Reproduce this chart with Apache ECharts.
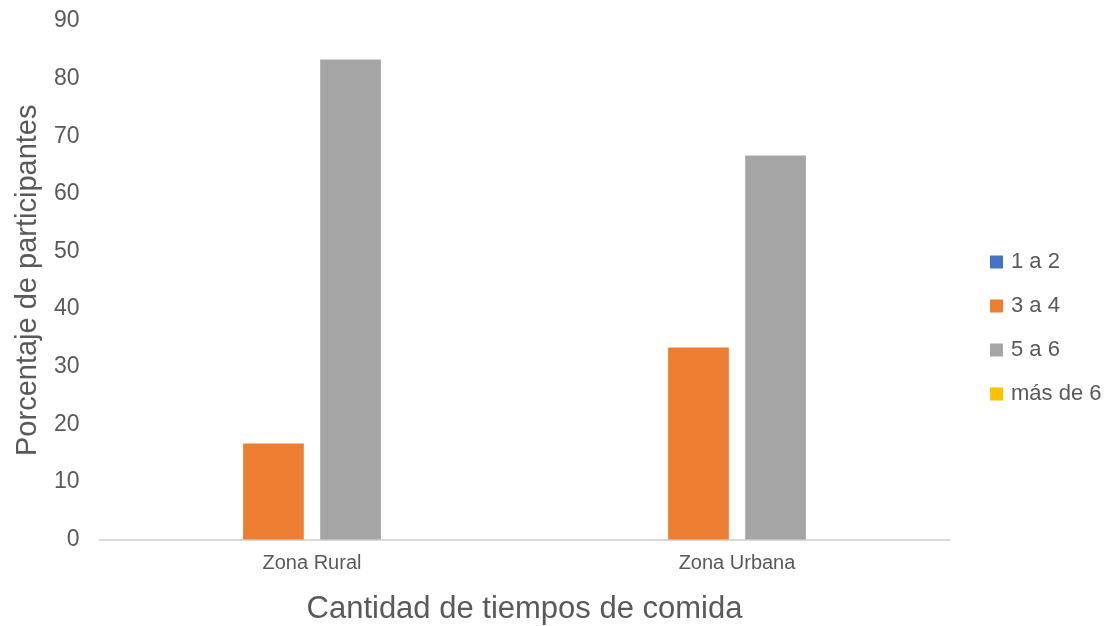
<!DOCTYPE html>
<html>
<head>
<meta charset="utf-8">
<script src="https://cdn.jsdelivr.net/npm/echarts@6/dist/echarts.min.js"></script>
<style>
  html, body { margin: 0; padding: 0; background: #ffffff; }
  #chart { width: 1109px; height: 626px; }
</style>
</head>
<body>
<div id="chart"></div>
<script>
// Zonas en el eje de categorías
const categories = ['Zona Rural', 'Zona Urbana'];

// Porcentaje de participantes por cantidad de tiempos de comida
const serieNames = ['1 a 2', '3 a 4', '5 a 6', 'más de 6'];
const valores1a2 = [0, 0];
const valores3a4 = [16.67, 33.33];
const valores5a6 = [83.33, 66.67];
const valoresMas6 = [0, 0];

const colores = ['#4472C4', '#ED7D31', '#A5A5A5', '#FFC000'];
const textColor = '#595959';
const fontFamily = '"Liberation Sans", Arial, sans-serif';

const datos = [valores1a2, valores3a4, valores5a6, valoresMas6];

const chart = echarts.init(document.getElementById('chart'), null, { renderer: 'canvas' });

chart.setOption({
  animation: false,
  textStyle: { fontFamily: fontFamily, color: textColor },
  grid: { left: 99.5, right: 159.5, top: 21, bottom: 86.5, outerBoundsMode: 'none', containLabel: false },
  legend: {
    orient: 'vertical',
    left: 985,
    top: 246,
    itemWidth: 13,
    itemHeight: 13,
    itemGap: 22,
    icon: 'rect',
    data: serieNames,
    textStyle: { fontSize: 22, color: textColor, fontFamily: fontFamily, padding: [0, 0, 0, 3] }
  },
  xAxis: {
    type: 'category',
    data: categories,
    name: 'Cantidad de tiempos de comida',
    nameLocation: 'middle',
    nameGap: 54,
    nameTextStyle: { fontSize: 31, color: textColor, fontFamily: fontFamily },
    axisLine: { show: true, lineStyle: { color: '#d9d9d9', width: 2 } },
    axisTick: { show: false },
    axisLabel: { fontSize: 20, color: textColor, margin: 14, fontFamily: fontFamily },
    splitLine: { show: false }
  },
  yAxis: {
    type: 'value',
    min: 0,
    max: 90,
    interval: 10,
    name: 'Porcentaje de participantes',
    nameLocation: 'middle',
    nameGap: 57,
    nameTextStyle: { fontSize: 29, color: textColor, fontFamily: fontFamily },
    axisLine: { show: false },
    axisTick: { show: false },
    axisLabel: { fontSize: 23, color: textColor, margin: 20, fontFamily: fontFamily },
    splitLine: { show: false }
  },
  series: serieNames.map((nombre, i) => ({
    name: nombre,
    type: 'bar',
    data: datos[i],
    barWidth: '14.28%',
    barGap: '27%',
    itemStyle: { color: colores[i] }
  }))
});
</script>
</body>
</html>
